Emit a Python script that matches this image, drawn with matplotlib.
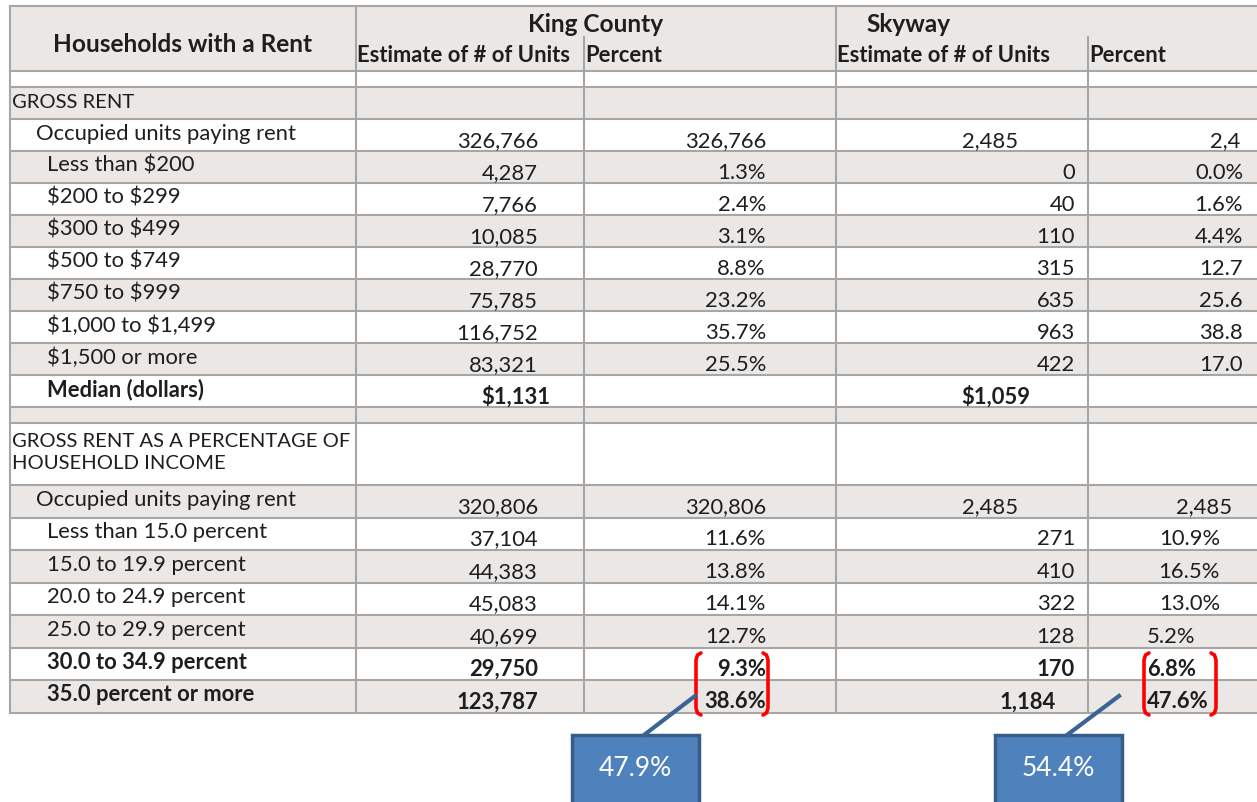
import matplotlib.pyplot as plt
from matplotlib.patches import Rectangle

plt.rcParams['font.family'] = ['Lato', 'DejaVu Sans']
plt.rcParams['text.parse_math'] = False

# table content
areas = ["King County", "Skyway"]
sub_headers = ["Estimate of # of Units", "Percent", "Estimate of # of Units", "Percent"]

row_labels = ["", "GROSS RENT", "Occupied units paying rent", "Less than $200", "$200 to $299",
              "$300 to $499", "$500 to $749", "$750 to $999", "$1,000 to $1,499", "$1,500 or more",
              "Median (dollars)", "", "GROSS RENT AS A PERCENTAGE OF\nHOUSEHOLD INCOME",
              "Occupied units paying rent", "Less than 15.0 percent", "15.0 to 19.9 percent",
              "20.0 to 24.9 percent", "25.0 to 29.9 percent", "30.0 to 34.9 percent",
              "35.0 percent or more"]
label_indent = [0, 0, 1, 2, 2, 2, 2, 2, 2, 2, 2, 0, 0, 1, 2, 2, 2, 2, 2, 2]
bold_rows = [10, 18, 19]

king_units = ["", "", "326,766", "4,287", "7,766", "10,085", "28,770", "75,785", "116,752", "83,321",
              "$1,131", "", "", "320,806", "37,104", "44,383", "45,083", "40,699", "29,750", "123,787"]
king_pct = ["", "", "326,766", "1.3%", "2.4%", "3.1%", "8.8%", "23.2%", "35.7%", "25.5%",
            "", "", "", "320,806", "11.6%", "13.8%", "14.1%", "12.7%", "9.3%", "38.6%"]
skyway_units = ["", "", "2,485", "0", "40", "110", "315", "635", "963", "422",
                "$1,059", "", "", "2,485", "271", "410", "322", "128", "170", "1,184"]
skyway_pct = ["", "", "2,4", "0.0%", "1.6%", "4.4%", "12.7", "25.6", "38.8", "17.0",
              "", "", "", "2,485", "10.9%", "16.5%", "13.0%", "5.2%", "6.8%", "47.6%"]

combined = ["47.9%", "54.4%"]

# layout
W, H = 1257, 803
col_x = [10, 356, 584, 836, 1088, 1265]
row_h = [16] + [32] * 10 + [16, 62] + [32.5] * 7
head_top, head_mid, head_bot = 7, 38, 72
gray = "#EAE7E4"
grid = "#A6A6A6"
ink = "#1E1E1E"
fs = 15.8

num_right = [538, 766, 1075, 1243]
# cells whose alignment differs from the column default
quirks = {(2, 2): ("right", 1018), (2, 3): ("right", 1240),
          (10, 0): ("right", 550), (10, 2): ("right", 1030),
          (13, 2): ("right", 1018), (13, 3): ("right", 1232),
          (14, 3): ("right", 1220), (15, 3): ("right", 1220), (16, 3): ("right", 1220),
          (17, 3): ("left", 1147), (18, 3): ("left", 1147), (19, 3): ("left", 1147),
          (19, 2): ("right", 1056)}

fig = plt.figure(figsize=(W / 100, H / 100), dpi=100)
ax = fig.add_axes([0, 0, 1, 1])
ax.set_xlim(0, W)
ax.set_ylim(H, 0)
ax.axis('off')

# header
ax.add_patch(Rectangle((col_x[0], head_top), col_x[-1] - col_x[0], head_bot - head_top,
                       facecolor=gray, edgecolor='none'))
ax.text((col_x[0] + col_x[1]) / 2, 44, "Households with a Rent", ha='center', va='center',
        fontsize=17.6, fontweight='bold', color=ink)
ax.text((col_x[1] + col_x[3]) / 2, 24, areas[0], ha='center', va='center',
        fontsize=17.6, fontweight='bold', color=ink)
ax.text(866, 24, areas[1], ha='left', va='center', fontsize=17.6, fontweight='bold', color=ink)
for i, s in enumerate(sub_headers):
    ax.text(col_x[i + 1] + 1, 55, s, ha='left', va='center', fontsize=fs,
            fontweight='bold', color=ink)

# body rows
tops = [head_bot]
for h in row_h:
    tops.append(tops[-1] + h)

columns = [king_units, king_pct, skyway_units, skyway_pct]
for r, label in enumerate(row_labels):
    y0, y1 = tops[r], tops[r + 1]
    if r % 2 == 1:
        ax.add_patch(Rectangle((col_x[0], y0), col_x[-1] - col_x[0], y1 - y0,
                               facecolor=gray, edgecolor='none'))
    weight = 'bold' if r in bold_rows else 'normal'
    if "\n" in label:
        ax.text(col_x[0] + 2, y0 + 9, label, ha='left', va='top', fontsize=14.6,
                color=ink, linespacing=1.35)
    elif label.isupper():
        ax.text(col_x[0] + 2, y0 + 14, label, ha='left', va='center', fontsize=14.6,
                color=ink)
    elif label:
        ax.text(col_x[0] + 2 + [0, 24, 35][label_indent[r]], y0 + 14, label, ha='left',
                va='center', fontsize=fs, fontweight=weight, color=ink)
    for c, col in enumerate(columns):
        if not col[r]:
            continue
        ha, x = quirks.get((r, c), ("right", num_right[c]))
        ax.text(x, y0 + 21, col[r], ha=ha, va='center', fontsize=fs,
                fontweight=weight, color=ink)

# grid lines
ax.plot([col_x[0], col_x[-1]], [head_top, head_top], color=grid, lw=1.5)
for y in tops:
    ax.plot([col_x[0], col_x[-1]], [y, y], color=grid, lw=1.5)
for i, x in enumerate(col_x[:-1]):
    ystart = head_mid if i in (2, 4) else head_top
    ax.plot([x, x], [ystart, tops[-1]], color=grid, lw=1.5)

# red brackets around the cost-burdened shares
def bracket(x, y0, y1, side):
    d = 5 * side
    ax.plot([x + d, x + 1.5 * side, x, x, x + 1.5 * side, x + d],
            [y0, y0 + 2, y0 + 7, y1 - 7, y1 - 2, y1],
            color='#FF0000', lw=2.6, solid_capstyle='round', solid_joinstyle='round')

for xl, xr in [(696, 768), (1144, 1216)]:
    bracket(xl, 654, 716, 1)
    bracket(xr, 654, 716, -1)

# callout boxes
for (bx, lx), txt in zip([(572, 695), (995, 1119)], combined):
    ax.plot([bx + 72, lx], [736, 697], color='#3B6494', lw=3)
    ax.add_patch(Rectangle((bx, 736), 127, 90, facecolor='#4F81BD', edgecolor='#385D8A', lw=2.5))
    ax.text(bx + 63.5, 769, txt, ha='center', va='center', fontsize=19, color='white')

fig.savefig("out.png", dpi=100)
